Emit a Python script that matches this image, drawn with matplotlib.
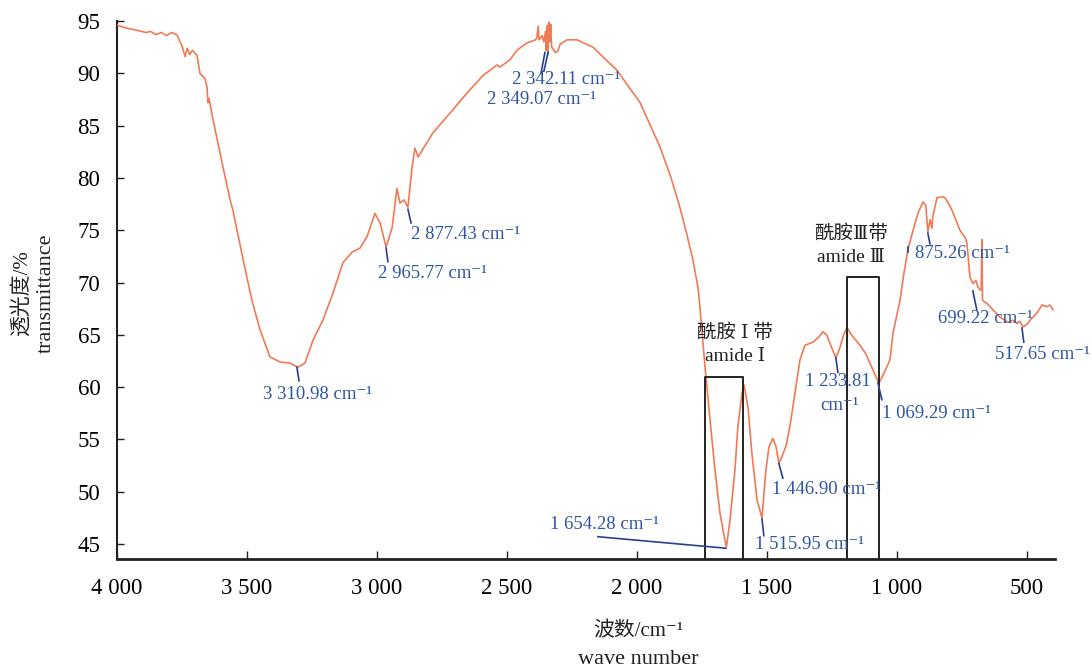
import matplotlib
matplotlib.use("Agg")
import matplotlib.pyplot as plt

# ---------------- data ----------------
wavenumber = [4000, 3960, 3920, 3890, 3870, 3850, 3830, 3810, 3790, 3770, 3750, 3738, 3730, 3720,
              3710, 3692, 3681, 3662, 3654, 3650, 3646, 3631, 3610, 3592, 3565, 3554, 3515, 3481,
              3450, 3412, 3373, 3335, 3304, 3277, 3246, 3208, 3169, 3131, 3096, 3065, 3038, 3008,
              2988, 2965, 2942, 2923, 2912, 2896, 2881, 2865, 2854, 2842, 2785, 2719, 2654, 2592,
              2538, 2527, 2488, 2462, 2423, 2390, 2385, 2380, 2377, 2365, 2358, 2352, 2349, 2346,
              2342, 2339, 2335, 2332, 2328, 2322, 2315, 2305, 2295, 2288, 2269, 2231, 2200, 2169,
              2120, 2077, 2030, 1988, 1950, 1912, 1870, 1835, 1810, 1785, 1765, 1758, 1738, 1719,
              1700, 1681, 1665, 1656, 1642, 1623, 1612, 1596, 1588, 1573, 1558, 1538, 1519, 1504,
              1492, 1477, 1465, 1454, 1440, 1425, 1410, 1395, 1373, 1354, 1323, 1300, 1285, 1270,
              1258, 1245, 1235, 1219, 1205, 1192, 1180, 1169, 1142, 1120, 1104, 1092, 1070, 1060,
              1045, 1027, 1015, 1000, 988, 975, 958, 938, 919, 900, 889, 881, 873, 865, 862, 846,
              827, 815, 800, 788, 758, 738, 731, 719, 708, 696, 689, 681, 676, 673, 671, 654, 631,
              604, 573, 555, 538, 528, 515, 500, 488, 461, 442, 423, 411, 400]
transmittance = [94.6, 94.3, 94.1, 93.9, 94.0, 93.7, 93.9, 93.6, 93.9, 93.7, 92.6, 91.6, 92.4, 91.8,
                 92.2, 91.7, 90.0, 89.5, 88.7, 87.2, 87.6, 85.6, 83.1, 81.0, 77.9, 76.9, 72.2, 68.3,
                 65.5, 62.9, 62.4, 62.3, 61.9, 62.3, 64.5, 66.4, 69.0, 71.9, 72.9, 73.3, 74.4, 76.6,
                 75.7, 73.4, 75.2, 79.0, 77.6, 77.9, 77.2, 81.0, 82.85, 82.0, 84.3, 86.2, 88.1, 89.8,
                 90.8, 90.6, 91.3, 92.2, 92.9, 93.2, 93.4, 94.5, 93.2, 93.6, 93.0, 94.0, 92.2, 94.6,
                 91.8, 94.9, 93.0, 94.7, 92.5, 92.3, 92.0, 92.1, 92.8, 92.9, 93.2, 93.2, 92.85, 92.5,
                 91.3, 90.3, 88.65, 87.2, 85.1, 83.0, 80.1, 77.2, 74.8, 72.2, 69.5, 67.7, 61.9, 56.9,
                 52.1, 48.0, 45.8, 44.7, 47.3, 52.1, 56.2, 59.4, 60.2, 58.1, 53.7, 49.2, 47.5, 52.1,
                 54.3, 55.1, 54.3, 52.7, 53.5, 54.5, 56.5, 59.0, 62.6, 64.0, 64.3, 64.8, 65.3, 65.0,
                 64.2, 63.4, 62.8, 63.8, 65.0, 65.7, 65.2, 64.8, 64.0, 63.2, 62.3, 61.6, 60.4, 60.8,
                 61.6, 62.6, 65.2, 66.9, 68.3, 70.6, 73.1, 75.0, 76.6, 77.7, 77.4, 74.8, 76.0, 75.2,
                 76.3, 78.1, 78.2, 78.1, 77.5, 76.9, 75.0, 74.3, 73.8, 70.5, 69.9, 70.2, 69.6, 69.3,
                 69.3, 74.1, 68.3, 68.0, 67.4, 66.7, 66.2, 66.4, 66.1, 66.3, 65.75, 66.0, 66.4, 67.1,
                 67.85, 67.7, 67.85, 67.4]

x_ticks = [4000, 3500, 3000, 2500, 2000, 1500, 1000, 500]
x_tick_labels = ["4 000", "3 500", "3 000", "2 500", "2 000", "1 500", "1 000", "500"]
y_ticks = [45, 50, 55, 60, 65, 70, 75, 80, 85, 90, 95]

# peak labels
peak_texts = ["3 310.98 cm⁻¹", "2 965.77 cm⁻¹", "2 877.43 cm⁻¹", "2 342.11 cm⁻¹", "2 349.07 cm⁻¹",
              "1 654.28 cm⁻¹", "1 515.95 cm⁻¹", "1 446.90 cm⁻¹", "1 233.81", "cm⁻¹",
              "1 069.29 cm⁻¹", "875.26 cm⁻¹", "699.22 cm⁻¹", "517.65 cm⁻¹"]
peak_text_x = [3438, 2996, 2869, 2481, 2577, 2335, 1546, 1481, 1354, 1296, 1058, 931, 842, 623]
peak_text_y = [59.25, 70.9, 74.6, 89.4, 87.45, 46.9, 45.0, 50.2, 60.5, 58.2, 57.5, 72.8, 66.6, 63.1]
# leader lines
leader_x0 = [3308, 2965, 2881, 2354, 2342, 2150, 1519, 1454, 1235, 1073, 881, 958, 708, 519]
leader_y0 = [61.9, 73.3, 77.0, 92.0, 92.0, 45.7, 47.4, 52.7, 62.8, 60.4, 74.7, 73.4, 69.2, 65.65]
leader_x1 = [3300, 2958, 2869, 2369, 2358, 1658, 1512, 1439, 1227, 1058, 873, 958, 693, 512]
leader_y1 = [60.6, 72.0, 75.7, 90.0, 90.2, 44.6, 45.8, 51.3, 61.4, 58.8, 73.7, 72.9, 67.4, 64.3]

# band boxes
box_left = [1738, 1192]
box_right = [1592, 1069]
box_top = [61.0, 70.5]
band_cn = ["酰胺 Ⅰ 带", "酰胺Ⅲ带"]
band_en = ["amide Ⅰ", "amide Ⅲ"]
band_x = [1623, 1177]
band_cn_y = [65.2, 74.7]
band_en_y = [62.9, 72.4]

# ---------------- style ----------------
SERIF = ['Liberation Serif', 'DejaVu Serif', 'Noto Sans CJK SC']
plt.rcParams['font.family'] = SERIF
plt.rcParams['axes.unicode_minus'] = False

LINE_C = '#f07a55'
TEXT_C = '#2f55a4'
LEAD_C = '#2b3f92'
Y_BOTTOM = 43.57

fig = plt.figure(figsize=(10.92, 6.69), dpi=100)
ax = fig.add_axes([117/1092, 1 - 559/669, (1055-117)/1092, (559-21)/669])

ax.plot(wavenumber, transmittance, color=LINE_C, lw=1.2, zorder=3)

ax.set_xlim(4000, 392)
ax.set_ylim(Y_BOTTOM, 95)

ax.set_xticks(x_ticks)
ax.set_xticklabels(x_tick_labels)
ax.set_yticks(y_ticks)
ax.tick_params(axis='both', direction='in', labelsize=16.5, color='#222222')
ax.tick_params(axis='x', length=6, width=1.0, pad=14)
ax.tick_params(axis='y', length=5, width=1.0, pad=12)

for s in ['top', 'right']:
    ax.spines[s].set_visible(False)
ax.spines['bottom'].set_linewidth(2.0)
ax.spines['left'].set_linewidth(1.5)
ax.spines['bottom'].set_color('#222222')
ax.spines['left'].set_color('#222222')

# boxes
for xl, xr, top in zip(box_left, box_right, box_top):
    ax.plot([xl, xl, xr, xr], [Y_BOTTOM, top, top, Y_BOTTOM], color='#222222', lw=1.4,
            zorder=4, clip_on=False)

for bx, cy, ey, cn, en in zip(band_x, band_cn_y, band_en_y, band_cn, band_en):
    ax.text(bx, cy, cn, ha='center', va='center', fontsize=14, color='#222222', family=SERIF)
    ax.text(bx, ey, en, ha='center', va='center', fontsize=14, color='#222222', family=SERIF)

# leaders
for x0, y0, x1, y1 in zip(leader_x0, leader_y0, leader_x1, leader_y1):
    ax.plot([x0, x1], [y0, y1], color=LEAD_C, lw=1.2, zorder=5)

for t, tx, ty in zip(peak_texts, peak_text_x, peak_text_y):
    ax.text(tx, ty, t, ha='left', va='center', fontsize=13.5, color=TEXT_C, family=SERIF, zorder=6)

# axis labels
fig.text(22/1092, 1 - 293/669, "透光度/%", rotation=90, ha='center', va='center',
         fontsize=15, family=SERIF, color='#222222')
fig.text(46/1092, 1 - 293/669, "transmittance", rotation=90, ha='center', va='center',
         fontsize=16, family=SERIF, color='#222222')
fig.text(638/1092, 1 - 632/669, "波数/cm⁻¹", ha='center', va='center',
         fontsize=15, family=SERIF, color='#222222')
fig.text(638/1092, 1 - 659/669, "wave number", ha='center', va='center',
         fontsize=16, family=SERIF, color='#222222')

fig.savefig("out.png", dpi=100)
